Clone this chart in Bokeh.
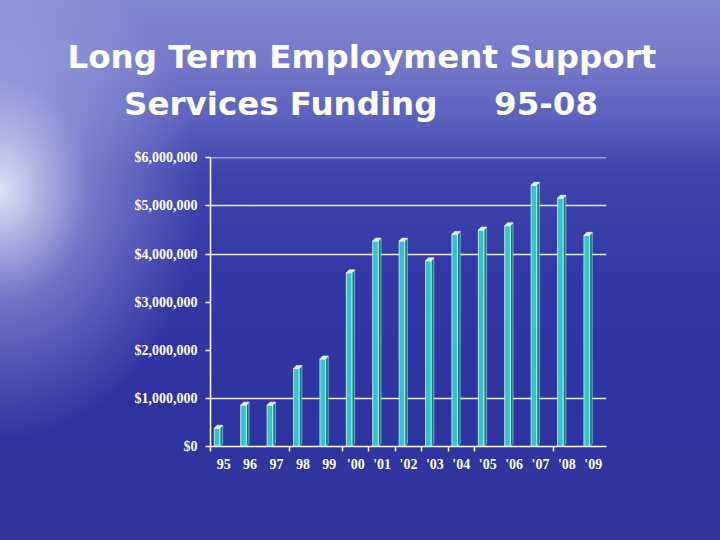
import numpy as np
from bokeh.plotting import figure
from bokeh.models import (Range1d, FixedTicker, NumeralTickFormatter,
                          InlineStyleSheet, ColumnDataSource)
from bokeh.embed import file_html
from bokeh.resources import INLINE

# ---- data ----
years = ["95", "96", "97", "98", "99", "'00", "'01", "'02", "'03", "'04",
         "'05", "'06", "'07", "'08", "'09"]
funding = [380000, 860000, 860000, 1620000, 1820000, 3610000, 4270000,
           4270000, 3860000, 4410000, 4500000, 4590000, 5430000, 5160000,
           4390000]
y_ticks = [0, 1000000, 2000000, 3000000, 4000000, 5000000, 6000000]
grid_levels = [1000000, 4000000, 5000000, 6000000]
title_line1 = "Long Term Employment Support"
title_line2 = "Services Funding" + "\u00a0" * 5 + "95-08"

n = len(years)
pos = np.arange(n)

css = InlineStyleSheet(css="""
:host {
  background:
    radial-gradient(ellipse 200px 250px at 0px 190px, rgba(240,242,255,0.9), rgba(200,205,245,0.4) 45%, rgba(120,125,210,0) 100%),
    linear-gradient(to bottom, #8188d2 0%, #7378c9 12%, #5a60bd 22%, #3f44ac 32%, #3438a6 50%, #2f33a0 75%, #31369f 100%);
}
""")

p = figure(width=720, height=540, output_backend="svg", toolbar_location=None,
           x_range=Range1d(0, n), y_range=Range1d(0, 6008000),
           min_border_left=210, min_border_right=114,
           min_border_top=157, min_border_bottom=94,
           background_fill_alpha=0, border_fill_alpha=0,
           outline_line_color=None, stylesheets=[css])

# title: two lines, block left-aligned and pulled left; second line indented
p.title.text = title_line1 + "\n" + "\u00a0" * 5 + title_line2
p.title.align = "left"
p.title.offset = -143
p.title.text_color = "white"
p.title.text_font = "DejaVu Sans"
p.title.text_font_style = "bold"
p.title.text_font_size = "32.5px"
p.title.text_line_height = 1.25
p.title.standoff = 69

# axes
ax = p.xaxis[0]
ax.ticker = FixedTicker(ticks=list(pos + 0.5), minor_ticks=[0, 3, 5, 6, 7, 8, 9, 10, 13])
ax.major_label_overrides = {float(x + 0.5): lab for x, lab in zip(pos, years)}
ax.major_tick_line_color = None
ax.minor_tick_line_color = "white"
ax.minor_tick_line_width = 1.5
ax.minor_tick_out = 5
ax.minor_tick_in = 0
ax.axis_line_color = "white"
ax.axis_line_width = 1.5
ax.major_label_standoff = 4
ax.major_label_text_color = "white"
ax.major_label_text_font = "Liberation Serif"
ax.major_label_text_font_style = "bold"
ax.major_label_text_font_size = "14px"

ay = p.yaxis[0]
ay.ticker = FixedTicker(ticks=y_ticks)
ay.formatter = NumeralTickFormatter(format="$0,0")
ay.axis_line_color = "white"
ay.axis_line_width = 1.5
ay.major_tick_line_color = "white"
ay.major_tick_line_width = 1.5
ay.major_tick_out = 5
ay.major_tick_in = 0
ay.minor_tick_line_color = None
ay.major_label_standoff = 8
ay.major_label_text_color = "white"
ay.major_label_text_font = "Liberation Serif"
ay.major_label_text_font_style = "bold"
ay.major_label_text_font_size = "14px"

p.xgrid.grid_line_color = None
p.ygrid.ticker = FixedTicker(ticks=grid_levels)
p.ygrid.grid_line_color = "white"
p.ygrid.grid_line_width = 1.5
p.ygrid.grid_line_alpha = 0.9

# 3D-like bars
depth_y = 62000  # ~3px
side_w = 0.105
src = ColumnDataSource(dict(x=pos + 0.25, top=funding))
side_xs, side_ys, top_xs, top_ys = [], [], [], []
for i, v in zip(pos, funding):
    l, r = i + 0.145, i + 0.355
    side_xs.append([r, r + side_w, r + side_w, r])
    side_ys.append([0, depth_y, v + depth_y, v])
    top_xs.append([l, r, r + side_w, l + side_w])
    top_ys.append([v, v, v + depth_y, v + depth_y])

p.patches(side_xs, side_ys, fill_color="#167a80", line_color="#9fe8ea", line_width=0.6)
p.vbar(x="x", top="top", bottom=0, width=0.21, source=src,
       fill_color="#34c3c6", line_color="#d8ffff", line_width=0.8)
p.patches(top_xs, top_ys, fill_color="#d6f6f6", line_color="#ffffff", line_width=0.6)

open("out.html", "w").write(file_html(p, INLINE))
